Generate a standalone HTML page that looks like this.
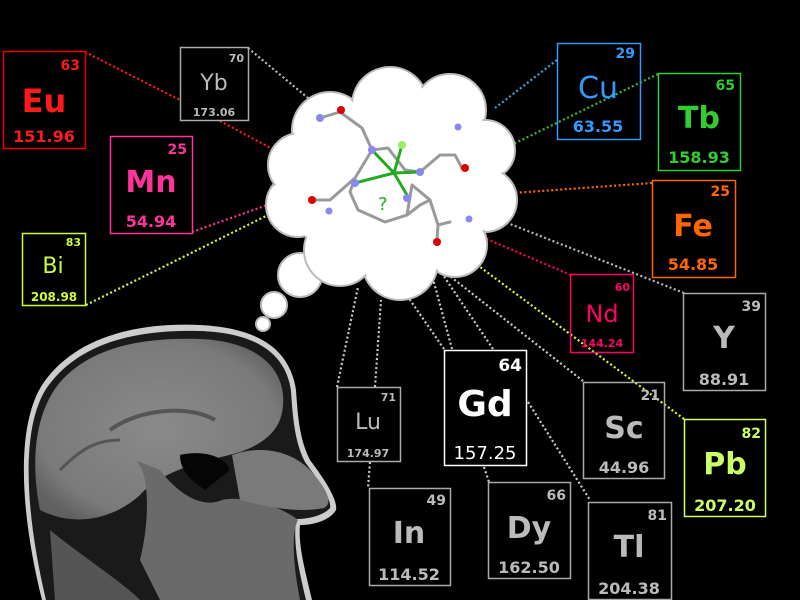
<!DOCTYPE html>
<html><head><meta charset="utf-8"><style>
html,body{margin:0;padding:0;background:#000;width:800px;height:600px;overflow:hidden}
svg{display:block}
text{font-family:"DejaVu Sans","Liberation Sans",sans-serif}
</style></head><body>
<svg width="800" height="600" viewBox="0 0 800 600" xmlns="http://www.w3.org/2000/svg">
<defs>
<radialGradient id="brain" cx="0.5" cy="0.5" r="0.6">
<stop offset="0" stop-color="#8a8a8a"/><stop offset="0.8" stop-color="#7a7a7a"/><stop offset="1" stop-color="#606060"/>
</radialGradient>
</defs>
<rect width="800" height="600" fill="#000"/>

<!-- MRI head -->
<g>
<path d="M42,600 C22,520 14,430 42,385 C72,340 130,322 200,325 C260,328 290,350 296,390 C298,420 300,440 310,460 C325,480 338,500 336,510 C330,520 315,525 300,525 C298,545 305,570 312,600 Z" fill="#ccc"/>
<path d="M46,600 C27,520 19,432 46,389 C76,345 132,329 200,331 C257,333 286,354 291,391 C293,421 295,442 305,462 C319,481 332,500 330,508 C324,515 310,519 296,519 C293,545 299,570 306,600 Z" fill="#1a1a1a"/>
<path d="M40,510 C30,460 35,410 62,380 C92,348 140,337 200,339 C250,341 280,362 283,395 C285,420 275,440 240,452 C205,462 165,468 140,495 C118,515 80,530 40,510 Z" fill="url(#brain)"/>
<path d="M110,430 C140,408 190,405 215,420" stroke="#555" stroke-width="4" fill="none"/>
<path d="M60,470 C80,450 95,440 120,440" stroke="#555" stroke-width="3" fill="none"/>
<path d="M180,455 C200,450 225,455 230,470 L205,490 C190,480 180,470 180,455Z" fill="#050505"/>
<path d="M135,460 C150,470 150,520 140,560 L160,600 L300,600 C292,560 292,530 298,520 C280,505 240,495 222,500 C200,510 175,490 160,470 Z" fill="#6a6a6a"/>
<path d="M232,455 C260,445 290,450 310,470 C328,490 333,503 324,508 C300,513 270,508 240,500 Z" fill="#7a7a7a"/>
<path d="M50,530 C80,555 120,580 140,600 L55,600 Z" fill="#555"/>
</g>

<!-- dotted connectors -->
<g fill="none" stroke-width="2.2" stroke-dasharray="2,2.5">
<path d="M85,52 L180,100 M220,121 L278,152" stroke="#ff1a1a"/>
<path d="M248,48 L308,98" stroke="#bbb"/>
<path d="M192,232 L270,204" stroke="#ff3399"/>
<path d="M86,305 L272,213" stroke="#ccff33"/>
<path d="M557,60 L495,108" stroke="#33aadd"/>
<path d="M658,74 L507,147" stroke="#33bb33"/>
<path d="M652,183 L513,193" stroke="#ff6600"/>
<path d="M684,293 L500,220" stroke="#bbb"/>
<path d="M571,275 L482,237" stroke="#ff0066"/>
<path d="M684,419 L468,258" stroke="#ccff33"/>
<path d="M583,381 L446,273" stroke="#ccc"/>
<path d="M528,402 L590,500" stroke="#ccc"/>
<path d="M493,349 L443,275" stroke="#ccc"/>
<path d="M452,349 L432,275" stroke="#ccc"/>
<path d="M444,349 L408,297" stroke="#ccc"/>
<path d="M484,467 L489,482" stroke="#ccc"/>
<path d="M337,387 L358,287" stroke="#ccc"/>
<path d="M375,387 L381,300" stroke="#ccc"/>
<path d="M370,462 L368,488" stroke="#ccc"/>
</g>

<!-- cloud -->
<g fill="#fff" stroke="#bbb" stroke-width="2">
<circle cx="300" cy="275" r="22"/>
<circle cx="274" cy="305" r="13"/>
<circle cx="263" cy="324" r="7"/>
</g>
<g fill="#fff" stroke="#bbb" stroke-width="2">
<circle cx="330" cy="130" r="38"/>
<circle cx="390" cy="105" r="38"/>
<circle cx="450" cy="110" r="36"/>
<circle cx="485" cy="150" r="30"/>
<circle cx="485" cy="200" r="32"/>
<circle cx="455" cy="245" r="32"/>
<circle cx="400" cy="262" r="38"/>
<circle cx="340" cy="250" r="36"/>
<circle cx="298" cy="205" r="32"/>
<circle cx="300" cy="165" r="32"/>
</g>
<g fill="#fff">
<circle cx="330" cy="130" r="36"/><circle cx="390" cy="105" r="36"/><circle cx="450" cy="110" r="34"/>
<circle cx="485" cy="150" r="28"/><circle cx="485" cy="200" r="30"/><circle cx="455" cy="245" r="30"/>
<circle cx="400" cy="262" r="36"/><circle cx="340" cy="250" r="34"/><circle cx="298" cy="205" r="30"/>
<circle cx="300" cy="165" r="30"/><ellipse cx="390" cy="185" rx="105" ry="85"/>
</g>

<!-- molecule -->
<g stroke="#999" stroke-width="3" fill="none" stroke-linecap="round">
<path d="M320,118 L340,112 L362,128 L372,150 L388,148 L405,170 L420,172"/>
<path d="M372,150 L355,178 L350,192 L358,210 L385,222 L407,215 L412,185"/>
<path d="M355,178 L330,200 L315,200"/>
<path d="M420,172 L440,155 L455,155 L462,168"/>
<path d="M412,185 L430,200 L438,225 L450,222"/>
<path d="M407,215 L420,205 L430,200"/>
<path d="M438,225 L437,240"/>
</g>
<g stroke="#22aa22" stroke-width="3">
<path d="M394,173 L372,150 M394,173 L420,172 M394,173 L355,183 M394,173 L407,195 M394,173 L402,145"/>
</g>
<circle cx="402" cy="145" r="4" fill="#99ee66"/>
<g fill="#8888ee"><circle cx="320" cy="118" r="4"/><circle cx="372" cy="150" r="4"/><circle cx="420" cy="172" r="4"/><circle cx="355" cy="183" r="4"/><circle cx="407" cy="198" r="4"/><circle cx="329" cy="211" r="3.5"/><circle cx="458" cy="127" r="3.5"/><circle cx="469" cy="219" r="3.5"/></g>
<g fill="#dd0000"><circle cx="341" cy="110" r="4"/><circle cx="465" cy="168" r="4"/><circle cx="312" cy="200" r="4"/><circle cx="437" cy="242" r="4"/></g>
<text x="378" y="210" font-size="18" fill="#22aa22">?</text>

<!-- element boxes -->
<g fill="none" stroke-width="1.5">
<rect x="3.5" y="51.5" width="82" height="97" stroke="#ee0000"/>
<rect x="180.5" y="47.5" width="68" height="73" stroke="#aaa"/>
<rect x="110.5" y="136.5" width="82" height="97" stroke="#ff3399"/>
<rect x="22.5" y="233.5" width="63" height="72" stroke="#ccff33"/>
<rect x="557.5" y="43.5" width="83" height="96" stroke="#3399ff"/>
<rect x="658.5" y="73.5" width="82" height="97" stroke="#33cc33"/>
<rect x="652.5" y="180.5" width="83" height="97" stroke="#ff6600"/>
<rect x="570.5" y="274.5" width="63" height="78" stroke="#ff0066"/>
<rect x="683.5" y="293.5" width="82" height="97" stroke="#aaa"/>
<rect x="444.5" y="350.5" width="82" height="115" stroke="#fff"/>
<rect x="337.5" y="387.5" width="63" height="74" stroke="#aaa"/>
<rect x="583.5" y="382.5" width="81" height="96" stroke="#aaa"/>
<rect x="684.5" y="419.5" width="81" height="97" stroke="#ccff66"/>
<rect x="369.5" y="488.5" width="81" height="97" stroke="#aaa"/>
<rect x="488.5" y="482.5" width="82" height="96" stroke="#aaa"/>
<rect x="588.5" y="502.5" width="83" height="97" stroke="#aaa"/>
</g>
<g font-weight="bold">
<g fill="#ff1a1a"><text x="80" y="70" font-size="14" text-anchor="end">63</text><text x="44" y="112" font-size="32" text-anchor="middle">Eu</text><text x="44" y="142" font-size="16" text-anchor="middle">151.96</text></g>
<g fill="#bbb"><text x="244" y="62" font-size="11" text-anchor="end">70</text><text x="214" y="90" font-size="22" text-anchor="middle" font-weight="normal">Yb</text><text x="214" y="116" font-size="11" text-anchor="middle">173.06</text></g>
<g fill="#ff3399"><text x="187" y="154" font-size="14" text-anchor="end">25</text><text x="151" y="192" font-size="30" text-anchor="middle">Mn</text><text x="151" y="227" font-size="16" text-anchor="middle">54.94</text></g>
<g fill="#ccff33"><text x="81" y="246" font-size="11" text-anchor="end">83</text><text x="53" y="273" font-size="22" text-anchor="middle" font-weight="normal">Bi</text><text x="54" y="301" font-size="12" text-anchor="middle">208.98</text></g>
<g fill="#3399ff"><text x="635" y="58" font-size="14" text-anchor="end">29</text><text x="598" y="98" font-size="30" text-anchor="middle" font-weight="normal">Cu</text><text x="598" y="132" font-size="16" text-anchor="middle">63.55</text></g>
<g fill="#33cc33"><text x="735" y="90" font-size="14" text-anchor="end">65</text><text x="699" y="128" font-size="30" text-anchor="middle">Tb</text><text x="699" y="163" font-size="16" text-anchor="middle">158.93</text></g>
<g fill="#ff6600"><text x="730" y="196" font-size="14" text-anchor="end">25</text><text x="693" y="236" font-size="30" text-anchor="middle">Fe</text><text x="693" y="270" font-size="16" text-anchor="middle">54.85</text></g>
<g fill="#ff0066"><text x="630" y="291" font-size="11" text-anchor="end">60</text><text x="602" y="322" font-size="24" text-anchor="middle" font-weight="normal">Nd</text><text x="602" y="347" font-size="11" text-anchor="middle">144.24</text></g>
<g fill="#bbb"><text x="761" y="311" font-size="14" text-anchor="end">39</text><text x="724" y="348" font-size="30" text-anchor="middle">Y</text><text x="724" y="385" font-size="16" text-anchor="middle">88.91</text></g>
<g fill="#fff"><text x="522" y="371" font-size="17" text-anchor="end">64</text><text x="485" y="416" font-size="36" text-anchor="middle">Gd</text><text x="485" y="459" font-size="18" text-anchor="middle" font-weight="normal">157.25</text></g>
<g fill="#bbb"><text x="396" y="401" font-size="11" text-anchor="end">71</text><text x="368" y="429" font-size="22" text-anchor="middle" font-weight="normal">Lu</text><text x="368" y="457" font-size="11" text-anchor="middle">174.97</text></g>
<g fill="#bbb"><text x="660" y="400" font-size="14" text-anchor="end">21</text><text x="624" y="438" font-size="30" text-anchor="middle">Sc</text><text x="624" y="473" font-size="16" text-anchor="middle">44.96</text></g>
<g fill="#ccff66"><text x="761" y="438" font-size="14" text-anchor="end">82</text><text x="725" y="474" font-size="30" text-anchor="middle">Pb</text><text x="725" y="511" font-size="16" text-anchor="middle">207.20</text></g>
<g fill="#bbb"><text x="446" y="505" font-size="14" text-anchor="end">49</text><text x="409" y="543" font-size="30" text-anchor="middle">In</text><text x="409" y="580" font-size="16" text-anchor="middle">114.52</text></g>
<g fill="#bbb"><text x="566" y="500" font-size="14" text-anchor="end">66</text><text x="529" y="538" font-size="30" text-anchor="middle">Dy</text><text x="529" y="573" font-size="16" text-anchor="middle">162.50</text></g>
<g fill="#bbb"><text x="667" y="520" font-size="14" text-anchor="end">81</text><text x="629" y="557" font-size="30" text-anchor="middle">Tl</text><text x="629" y="594" font-size="16" text-anchor="middle">204.38</text></g>
</g>
</svg>
</body></html>
